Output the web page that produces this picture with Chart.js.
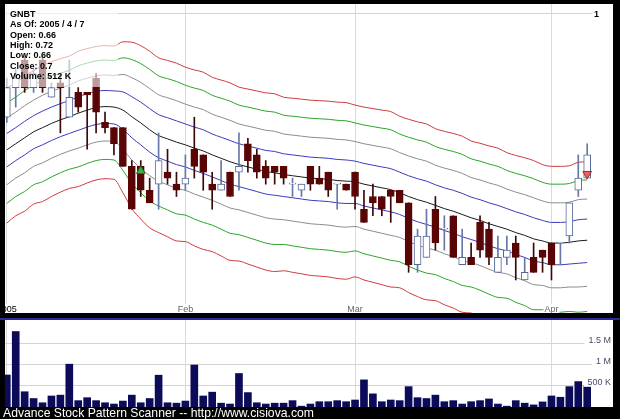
<!DOCTYPE html>
<html>
<head>
<meta charset="utf-8">
<script src="https://cdn.jsdelivr.net/npm/chart.js@4.4.0/dist/chart.umd.min.js"></script>
<style>
  html, body { margin: 0; padding: 0; background: #000; }
  #frame { position: relative; width: 620px; height: 419px; background: #000; overflow: hidden; }
  #priceBox { position: absolute; left: 5px; top: 4px; width: 608px; height: 309px; background: #fff; }
  #volBox { position: absolute; left: 5px; top: 320px; width: 608px; height: 87px; background: #fff; }
  #sep { position: absolute; left: 0; top: 318px; width: 620px; height: 2px; background: #2a2a9a; }
  #footer { position: absolute; left: 3px; top: 406px; color: #fff; line-height: 13px;
            font: 12.2px "Liberation Sans", Arial, sans-serif; white-space: nowrap; }
</style>
</head>
<body>
<div id="frame">
  <div id="priceBox"><canvas id="price" width="608" height="309"></canvas></div>
  <div id="sep"></div>
  <div id="volBox"><canvas id="vol" width="608" height="87"></canvas></div>
  <div id="footer">Advance Stock Pattern Scanner -- http://www.cisiova.com</div>
</div>
<script>
// ---- data (GNBT, daily, 2005-01-03 .. 2005-04-07) ----
const symbol = 'GNBT';
const asOf = '2005 / 4 / 7';
const monthTicks = [0, 20, 39, 61];
const monthLabels = ['2005', 'Feb', 'Mar', 'Apr'];

const opens  = [0.77,0.83,0.89,0.83,0.89,0.81,0.84,0.77,0.82,0.82,0.85,0.76,0.75,0.75,0.68,0.68,0.64,0.65,0.67,0.65,
                0.65,0.71,0.70,0.65,0.64,0.67,0.67,0.72,0.70,0.68,0.68,0.68,0.65,0.64,0.68,0.66,0.67,0.65,0.65,
                0.67,0.61,0.63,0.63,0.64,0.64,0.62,0.53,0.54,0.61,0.58,0.60,0.53,0.54,0.59,0.58,0.52,0.54,0.56,0.51,0.54,0.55,
                0.56,0.56,0.57,0.64,0.66];
const highs  = [0.85,0.87,0.90,0.87,0.90,0.84,0.86,0.89,0.83,0.82,0.86,0.78,0.75,0.75,0.69,0.69,0.66,0.74,0.71,0.67,
                0.70,0.77,0.70,0.67,0.69,0.67,0.74,0.73,0.71,0.69,0.68,0.68,0.66,0.65,0.68,0.68,0.67,0.65,0.65,
                0.67,0.64,0.65,0.63,0.64,0.64,0.62,0.58,0.61,0.63,0.60,0.60,0.58,0.56,0.60,0.59,0.57,0.57,0.57,0.54,0.56,0.55,
                0.56,0.56,0.62,0.70,0.72];
const lows   = [0.76,0.79,0.82,0.82,0.82,0.81,0.74,0.77,0.78,0.71,0.74,0.74,0.70,0.68,0.61,0.63,0.62,0.61,0.65,0.63,
                0.64,0.66,0.64,0.61,0.64,0.63,0.64,0.67,0.66,0.65,0.65,0.65,0.63,0.63,0.64,0.65,0.63,0.61,0.64,
                0.61,0.59,0.60,0.60,0.59,0.62,0.52,0.52,0.54,0.55,0.55,0.54,0.53,0.53,0.54,0.53,0.52,0.53,0.51,0.51,0.52,0.52,
                0.51,0.53,0.56,0.63,0.66];
const closes = [0.83,0.85,0.83,0.86,0.83,0.83,0.83,0.81,0.79,0.815,0.78,0.75,0.72,0.68,0.61,0.64,0.62,0.69,0.66,0.64,
                0.66,0.68,0.67,0.64,0.65,0.63,0.68,0.69,0.67,0.66,0.67,0.66,0.65,0.65,0.65,0.65,0.64,0.65,0.64,
                0.63,0.59,0.62,0.61,0.63,0.62,0.53,0.57,0.57,0.56,0.58,0.54,0.54,0.53,0.55,0.54,0.54,0.55,0.54,0.52,0.52,0.54,
                0.53,0.56,0.62,0.66,0.70];
// volume in thousands of shares
const volumes = [755,1780,360,200,100,260,280,1010,150,220,150,100,70,140,280,100,200,750,100,90,
                 140,990,260,350,90,70,790,340,100,70,90,90,150,20,70,125,125,150,125,
                 165,640,310,125,165,150,480,220,200,280,125,150,70,125,150,190,70,20,150,90,50,120,
                 260,230,480,600,512];

// channel: middle line and band step (four bands each side)
const midLine = [0.709,0.720,0.731,0.742,0.750,0.758,0.765,0.771,0.778,0.784,0.789,0.791,0.790,0.784,0.771,0.759,0.746,0.735,0.729,0.723,
                 0.718,0.712,0.707,0.700,0.694,0.688,0.683,0.679,0.675,0.671,0.669,0.666,0.664,0.662,0.660,0.659,0.658,0.656,0.655,
                 0.654,0.650,0.647,0.644,0.641,0.636,0.630,0.625,0.621,0.616,0.611,0.607,0.602,0.597,0.593,0.588,0.584,0.580,0.575,0.571,0.566,0.563,
                 0.560,0.560,0.561,0.563,0.564];
const bandStep = [0.030,0.030,0.031,0.031,0.032,0.032,0.032,0.032,0.033,0.033,0.033,0.033,0.033,0.037,0.040,0.041,0.041,0.040,0.040,0.040,
                  0.039,0.039,0.039,0.038,0.038,0.038,0.037,0.037,0.037,0.037,0.037,0.036,0.036,0.036,0.036,0.036,0.036,0.036,0.036,
                  0.035,0.035,0.035,0.035,0.035,0.034,0.034,0.034,0.034,0.033,0.033,0.033,0.033,0.032,0.032,0.032,0.032,0.031,0.031,0.031,0.031,0.030,
                  0.030,0.030,0.030,0.031,0.031];
const bandMult   = [4, 3, 2, 1, 0, -1, -2, -3, -4];
const bandColors = ['#d03a3a', '#2aa52a', '#8c8c8c', '#3a3abf', '#1a1a1a', '#3a3abf', '#8c8c8c', '#2aa52a', '#d03a3a'];

const buySignals  = [{ x: 15, y: 0.672 }];
const sellSignals = [{ x: 65, y: 0.667 }];

const priceTicks = [1];
const volTicks = [500, 1000, 1500];
const volTickLabels = ['500 K', '1 M', '1.5 M'];

// ---- helpers ----
const FONT = '"Liberation Sans", Arial, sans-serif';
const last = closes.length - 1;
const isUp = i => closes[i] >= opens[i];
const xMin = -0.202, xMax = 67.89;

function monthAxis() {
    return {
        type: 'linear', min: xMin, max: xMax, offset: false,
        border: { display: false },
        grid: { color: '#dadada', drawTicks: false, offset: false },
        ticks: { display: false },
        afterBuildTicks: s => { s.ticks = monthTicks.map(v => ({ value: v })); }
    };
}

function valueAxis(type, min, max, values) {
    return {
        type: type, position: 'right', min: min, max: max,
        border: { display: false },
        grid: { color: '#d4d4d4', drawTicks: false },
        ticks: { display: false },
        afterBuildTicks: s => { s.ticks = values.map(v => ({ value: v })); }
    };
}

// right-hand labels drawn inside the plot with a white backdrop
function rightLabels(values, labels, opts) {
    return {
        id: 'rightLabels',
        afterDraw(chart) {
            const ctx = chart.ctx, ys = chart.scales.y, area = chart.chartArea;
            ctx.save();
            ctx.font = opts.font;
            ctx.textAlign = 'right';
            ctx.textBaseline = 'middle';
            values.forEach((v, k) => {
                const py = ys.getPixelForValue(v);
                const w = ctx.measureText(labels[k]).width;
                ctx.fillStyle = '#fff';
                ctx.fillRect(opts.right - w - opts.gap, py - 1, area.right - (opts.right - w - opts.gap), 2);
                ctx.fillStyle = opts.color;
                ctx.fillText(labels[k], opts.right, py + opts.dy);
            });
            ctx.restore();
        }
    };
}

// info box + month labels drawn on the price panel
const priceOverlay = {
    id: 'priceOverlay',
    afterDatasetsDraw(chart) {
        const ctx = chart.ctx;
        ctx.save();
        ctx.fillStyle = 'rgba(255,255,255,0.6)';
        ctx.fillRect(0, 0, 113, 83);
        const info = [
            symbol,
            'As Of: ' + asOf,
            'Open: ' + opens[last],
            'High: ' + highs[last],
            'Low: ' + lows[last],
            'Close: ' + closes[last],
            'Volume: ' + volumes[last] + ' K'
        ];
        ctx.fillStyle = '#000';
        ctx.font = 'bold 9px ' + FONT;
        ctx.textBaseline = 'middle';
        info.forEach((t, k) => ctx.fillText(t, 5, 10.3 + k * 10.4));
        ctx.restore();
    },
    afterDraw(chart) {
        const ctx = chart.ctx, xs = chart.scales.x, area = chart.chartArea;
        ctx.save();
        ctx.font = '9px ' + FONT;
        ctx.textAlign = 'center';
        ctx.textBaseline = 'alphabetic';
        monthTicks.forEach((d, k) => {
            const px = xs.getPixelForValue(d);
            const w = ctx.measureText(monthLabels[k]).width;
            ctx.fillStyle = '#fff';
            ctx.fillRect(px - w / 2 - 1, area.bottom - 9, w + 2, 9);
            ctx.fillStyle = k === 0 ? '#000' : '#666';
            ctx.fillText(monthLabels[k], px, area.bottom - 1.5);
        });
        ctx.restore();
    }
};

// ---- price chart ----
const idx = opens.map((_, i) => i);
const bandSets = bandMult.map((m, k) => ({
    type: 'line',
    data: idx.map(i => ({ x: i, y: midLine[i] + m * bandStep[i] })),
    borderColor: bandColors[k],
    borderWidth: 1,
    pointRadius: 0,
    cubicInterpolationMode: 'monotone',
    order: 3
}));

new Chart(document.getElementById('price'), {
    type: 'bar',
    data: {
        datasets: [
            { type: 'scatter', data: buySignals, pointStyle: 'triangle', pointRadius: 5,
              backgroundColor: '#3cb43c', borderColor: '#1f6f1f', borderWidth: 1, order: 0 },
            { type: 'scatter', data: sellSignals, pointStyle: 'triangle', rotation: 180, pointRadius: 5,
              backgroundColor: '#f06060', borderColor: '#a02a2a', borderWidth: 1, order: 0 },
            {
                data: idx.map(i => ({ x: i, y: [opens[i], closes[i]] })),
                backgroundColor: c => isUp(c.dataIndex) ? '#ffffff' : '#5a0505',
                borderColor: c => isUp(c.dataIndex) ? '#56679a' : '#5a0505',
                borderWidth: 1, borderSkipped: false, barThickness: 7, minBarLength: 1,
                grouped: false, order: 1
            },
            {
                data: idx.map(i => ({ x: i, y: [lows[i], highs[i]] })),
                backgroundColor: c => isUp(c.dataIndex) ? '#6677a8' : '#3a0a0a',
                barThickness: 1, grouped: false, order: 2
            },
            ...bandSets
        ]
    },
    options: {
        responsive: false, animation: false,
        layout: { padding: 0, autoPadding: false },
        plugins: { legend: { display: false }, tooltip: { enabled: false } },
        scales: {
            x: monthAxis(),
            y: valueAxis('logarithmic', 0.4691, 1.0256, priceTicks)
        }
    },
    plugins: [priceOverlay,
              rightLabels(priceTicks, ['1'], { font: 'bold 9px ' + FONT, color: '#000', right: 594, gap: 2, dy: 0.5 })]
});

// ---- volume chart ----
new Chart(document.getElementById('vol'), {
    type: 'bar',
    data: {
        datasets: [{
            data: idx.map(i => ({ x: i, y: volumes[i] })),
            backgroundColor: '#0b0b5a',
            barThickness: 7
        }]
    },
    options: {
        responsive: false, animation: false,
        layout: { padding: 0, autoPadding: false },
        plugins: { legend: { display: false }, tooltip: { enabled: false } },
        scales: {
            x: monthAxis(),
            y: valueAxis('linear', 0, 2052, volTicks)
        }
    },
    plugins: [rightLabels(volTicks, volTickLabels, { font: '9px ' + FONT, color: '#4a4a6e', right: 606, gap: 4, dy: -3 })]
});
</script>
</body>
</html>
